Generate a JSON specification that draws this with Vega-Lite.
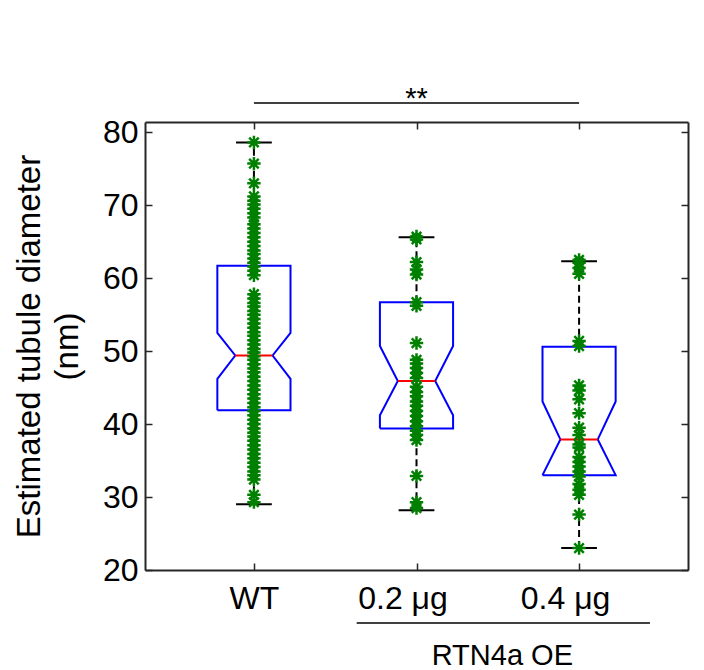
{
  "$schema": "https://vega.github.io/schema/vega-lite/v6.json",
  "width": 543,
  "height": 448,
  "autosize": {"type": "none"},
  "padding": {"left": 145, "top": 122, "right": 16, "bottom": 100},
  "background": "white",
  "config": {"view": {"stroke": null}},
  "resolve": {"axis": {"x": "independent", "y": "independent"}},
  "datasets": {
    "stats": [
      {"g": 1, "q1": 41.9, "q3": 61.7, "med": 49.4, "nlo": 46.2, "nhi": 52.5, "wlo": 29.0, "whi": 78.6},
      {"g": 2, "q1": 39.4, "q3": 56.7, "med": 45.9, "nlo": 41.2, "nhi": 50.7, "wlo": 28.2, "whi": 65.6},
      {"g": 3, "q1": 33.0, "q3": 50.6, "med": 37.9, "nlo": 33.0, "nhi": 43.1, "wlo": 23.0, "whi": 62.3}
    ],
    "pts": [
      {"g": 1, "v": 78.6}, {"g": 1, "v": 75.7}, {"g": 1, "v": 73.0}, {"g": 1, "v": 71.2}, {"g": 1, "v": 70.6},
      {"g": 1, "v": 70.1}, {"g": 1, "v": 69.5}, {"g": 1, "v": 68.9}, {"g": 1, "v": 68.3}, {"g": 1, "v": 67.4},
      {"g": 1, "v": 66.8}, {"g": 1, "v": 66.2}, {"g": 1, "v": 65.6}, {"g": 1, "v": 65.0}, {"g": 1, "v": 64.4},
      {"g": 1, "v": 63.8}, {"g": 1, "v": 63.3}, {"g": 1, "v": 62.7}, {"g": 1, "v": 62.1}, {"g": 1, "v": 61.6},
      {"g": 1, "v": 61.0}, {"g": 1, "v": 60.4}, {"g": 1, "v": 57.8}, {"g": 1, "v": 57.2}, {"g": 1, "v": 56.6},
      {"g": 1, "v": 56.1}, {"g": 1, "v": 55.5}, {"g": 1, "v": 55.0}, {"g": 1, "v": 54.4}, {"g": 1, "v": 53.8},
      {"g": 1, "v": 53.2}, {"g": 1, "v": 52.6}, {"g": 1, "v": 52.1}, {"g": 1, "v": 51.5}, {"g": 1, "v": 50.9},
      {"g": 1, "v": 50.3}, {"g": 1, "v": 49.8}, {"g": 1, "v": 49.3}, {"g": 1, "v": 48.8}, {"g": 1, "v": 48.2},
      {"g": 1, "v": 47.6}, {"g": 1, "v": 47.1}, {"g": 1, "v": 46.5}, {"g": 1, "v": 45.9}, {"g": 1, "v": 45.3},
      {"g": 1, "v": 44.7}, {"g": 1, "v": 44.1}, {"g": 1, "v": 43.5}, {"g": 1, "v": 42.9}, {"g": 1, "v": 42.3},
      {"g": 1, "v": 41.8}, {"g": 1, "v": 41.2}, {"g": 1, "v": 40.6}, {"g": 1, "v": 40.0}, {"g": 1, "v": 39.4},
      {"g": 1, "v": 38.8}, {"g": 1, "v": 38.3}, {"g": 1, "v": 37.7}, {"g": 1, "v": 37.1}, {"g": 1, "v": 36.5},
      {"g": 1, "v": 35.9}, {"g": 1, "v": 35.3}, {"g": 1, "v": 34.7}, {"g": 1, "v": 34.1}, {"g": 1, "v": 33.5},
      {"g": 1, "v": 33.0}, {"g": 1, "v": 32.4}, {"g": 1, "v": 30.3}, {"g": 1, "v": 29.3},
      {"g": 2, "v": 65.7}, {"g": 2, "v": 65.3}, {"g": 2, "v": 62.2}, {"g": 2, "v": 61.2}, {"g": 2, "v": 60.5},
      {"g": 2, "v": 56.7}, {"g": 2, "v": 56.2}, {"g": 2, "v": 51.1}, {"g": 2, "v": 48.8}, {"g": 2, "v": 48.3},
      {"g": 2, "v": 47.7}, {"g": 2, "v": 47.0}, {"g": 2, "v": 46.3}, {"g": 2, "v": 45.1}, {"g": 2, "v": 44.4},
      {"g": 2, "v": 43.8}, {"g": 2, "v": 43.1}, {"g": 2, "v": 42.5}, {"g": 2, "v": 41.8}, {"g": 2, "v": 41.1},
      {"g": 2, "v": 40.4}, {"g": 2, "v": 39.7}, {"g": 2, "v": 39.1}, {"g": 2, "v": 38.5}, {"g": 2, "v": 37.8},
      {"g": 2, "v": 32.9}, {"g": 2, "v": 29.3}, {"g": 2, "v": 28.5},
      {"g": 3, "v": 62.5}, {"g": 3, "v": 62.1}, {"g": 3, "v": 61.4}, {"g": 3, "v": 60.6}, {"g": 3, "v": 51.4},
      {"g": 3, "v": 50.7}, {"g": 3, "v": 45.3}, {"g": 3, "v": 44.6}, {"g": 3, "v": 43.4}, {"g": 3, "v": 41.5},
      {"g": 3, "v": 39.5}, {"g": 3, "v": 38.5}, {"g": 3, "v": 37.2}, {"g": 3, "v": 36.8}, {"g": 3, "v": 35.5},
      {"g": 3, "v": 34.8}, {"g": 3, "v": 34.2}, {"g": 3, "v": 33.5}, {"g": 3, "v": 32.8}, {"g": 3, "v": 31.8},
      {"g": 3, "v": 31.0}, {"g": 3, "v": 30.3}, {"g": 3, "v": 27.6}, {"g": 3, "v": 23.0}
    ],
    "annRules": [
      {"x1": 1.0, "x2": 3.0, "y": 84.0},
      {"x1": 1.632, "x2": 3.436, "y": 12.74}
    ],
    "annText": [
      {"x": 2.0, "y": 83.3, "t": "**"},
      {"x": 2.528, "y": 6.93, "t": "RTN4a OE"}
    ]
  },
  "layer": [
    {
      "data": {"name": "stats"},
      "mark": {"type": "rule", "color": "black", "strokeWidth": 2, "strokeDash": [7, 4]},
      "encoding": {
        "x": {"field": "g", "type": "quantitative", "scale": {"domain": [0.33, 3.67], "nice": false, "zero": false},
          "axis": {"orient": "bottom", "values": [1, 2, 3], "labelExpr": "datum.value == 1 ? 'WT' : datum.value == 2 ? '0.2 μg' : '0.4 μg'",
            "labelOffset": {"condition": {"test": "datum.value == 1", "value": 0}, "value": -14},
            "title": null, "grid": false, "tickSize": -7, "tickWidth": 1.5, "tickColor": "#262626", "domainColor": "#262626", "domainWidth": 2,
            "labelFont": "Liberation Sans", "labelFontSize": 32, "labelColor": "#000000", "labelPadding": 20}},
        "y": {"field": "q3", "type": "quantitative", "scale": {"domain": [20, 81.4], "nice": false, "zero": false},
          "axis": {"orient": "left", "values": [20, 30, 40, 50, 60, 70, 80], "grid": false, "tickSize": -7, "tickWidth": 1.5, "tickColor": "#262626",
            "domainColor": "#262626", "domainWidth": 2, "labelFont": "Liberation Sans", "labelFontSize": 32, "labelColor": "#000000", "labelPadding": 14,
            "title": ["Estimated tubule diameter", "(nm)"], "titleFont": "Liberation Sans", "titleFontSize": 33, "titleFontWeight": "normal",
            "titleColor": "#000000", "titlePadding": 18, "titleLineHeight": 38}},
        "y2": {"field": "whi"}
      }
    },
    {
      "data": {"name": "stats"},
      "mark": {"type": "rule", "color": "black", "strokeWidth": 2, "strokeDash": [7, 4]},
      "encoding": {
        "x": {"field": "g", "type": "quantitative", "scale": {"domain": [0.33, 3.67], "nice": false, "zero": false},
          "axis": {"orient": "top", "values": [1, 2, 3], "labels": false, "title": null, "grid": false, "tickSize": -7, "tickWidth": 1.5,
            "tickColor": "#262626", "domainColor": "#262626", "domainWidth": 2}},
        "y": {"field": "wlo", "type": "quantitative", "scale": {"domain": [20, 81.4], "nice": false, "zero": false},
          "axis": {"orient": "right", "values": [20, 30, 40, 50, 60, 70, 80], "labels": false, "title": null, "grid": false, "tickSize": -7,
            "tickWidth": 1.5, "tickColor": "#262626", "domainColor": "#262626", "domainWidth": 2}},
        "y2": {"field": "q1"}
      }
    },
    {
      "data": {"name": "stats"},
      "transform": [
        {"calculate": "datum.g - 0.11", "as": "xa"},
        {"calculate": "datum.g + 0.11", "as": "xb"},
        {"fold": ["wlo", "whi"], "as": ["kind", "cap"]}
      ],
      "mark": {"type": "rule", "color": "black", "strokeWidth": 2},
      "encoding": {
        "x": {"field": "xa", "type": "quantitative", "scale": {"domain": [0.33, 3.67], "nice": false, "zero": false}, "axis": null},
        "x2": {"field": "xb"},
        "y": {"field": "cap", "type": "quantitative", "scale": {"domain": [20, 81.4], "nice": false, "zero": false}, "axis": null}
      }
    },
    {
      "data": {"name": "stats"},
      "transform": [
        {"calculate": "[datum.g-0.225, datum.g+0.225, datum.g+0.225, datum.g+0.115, datum.g+0.225, datum.g+0.225, datum.g-0.225, datum.g-0.225, datum.g-0.115, datum.g-0.225, datum.g-0.225]", "as": "px"},
        {"calculate": "[datum.q1, datum.q1, datum.nlo, datum.med, datum.nhi, datum.q3, datum.q3, datum.nhi, datum.med, datum.nlo, datum.q1]", "as": "py"},
        {"calculate": "[0,1,2,3,4,5,6,7,8,9,10]", "as": "o"},
        {"flatten": ["px", "py", "o"]}
      ],
      "mark": {"type": "line", "color": "#0000ff", "strokeWidth": 2, "strokeJoin": "miter"},
      "encoding": {
        "x": {"field": "px", "type": "quantitative", "scale": {"domain": [0.33, 3.67], "nice": false, "zero": false}, "axis": null},
        "y": {"field": "py", "type": "quantitative", "scale": {"domain": [20, 81.4], "nice": false, "zero": false}, "axis": null},
        "detail": {"field": "g"},
        "order": {"field": "o", "type": "quantitative"}
      }
    },
    {
      "data": {"name": "stats"},
      "transform": [
        {"calculate": "datum.g - 0.115", "as": "xa"},
        {"calculate": "datum.g + 0.115", "as": "xb"}
      ],
      "mark": {"type": "rule", "color": "#ff0000", "strokeWidth": 2},
      "encoding": {
        "x": {"field": "xa", "type": "quantitative", "scale": {"domain": [0.33, 3.67], "nice": false, "zero": false}, "axis": null},
        "x2": {"field": "xb"},
        "y": {"field": "med", "type": "quantitative", "scale": {"domain": [20, 81.4], "nice": false, "zero": false}, "axis": null}
      }
    },
    {
      "data": {"name": "pts"},
      "mark": {"type": "point", "shape": "M-1,0L1,0M0,-1L0,1M-0.71,-0.71L0.71,0.71M-0.71,0.71L0.71,-0.71", "filled": false,
        "stroke": "#008000", "strokeWidth": 2.5, "size": 180, "opacity": 1},
      "encoding": {
        "x": {"field": "g", "type": "quantitative", "scale": {"domain": [0.33, 3.67], "nice": false, "zero": false}, "axis": null},
        "y": {"field": "v", "type": "quantitative", "scale": {"domain": [20, 81.4], "nice": false, "zero": false}, "axis": null}
      }
    },
    {
      "data": {"name": "annRules"},
      "mark": {"type": "rule", "color": "black", "strokeWidth": 1.5},
      "encoding": {
        "x": {"field": "x1", "type": "quantitative", "scale": {"domain": [0.33, 3.67], "nice": false, "zero": false}, "axis": null},
        "x2": {"field": "x2"},
        "y": {"field": "y", "type": "quantitative", "scale": {"domain": [20, 81.4], "nice": false, "zero": false}, "axis": null}
      }
    },
    {
      "data": {"name": "annText"},
      "mark": {"type": "text", "font": "Liberation Sans", "fontSize": 29, "color": "black", "align": "center", "baseline": "alphabetic"},
      "encoding": {
        "x": {"field": "x", "type": "quantitative", "scale": {"domain": [0.33, 3.67], "nice": false, "zero": false}, "axis": null},
        "y": {"field": "y", "type": "quantitative", "scale": {"domain": [20, 81.4], "nice": false, "zero": false}, "axis": null},
        "text": {"field": "t"}
      }
    }
  ]
}
